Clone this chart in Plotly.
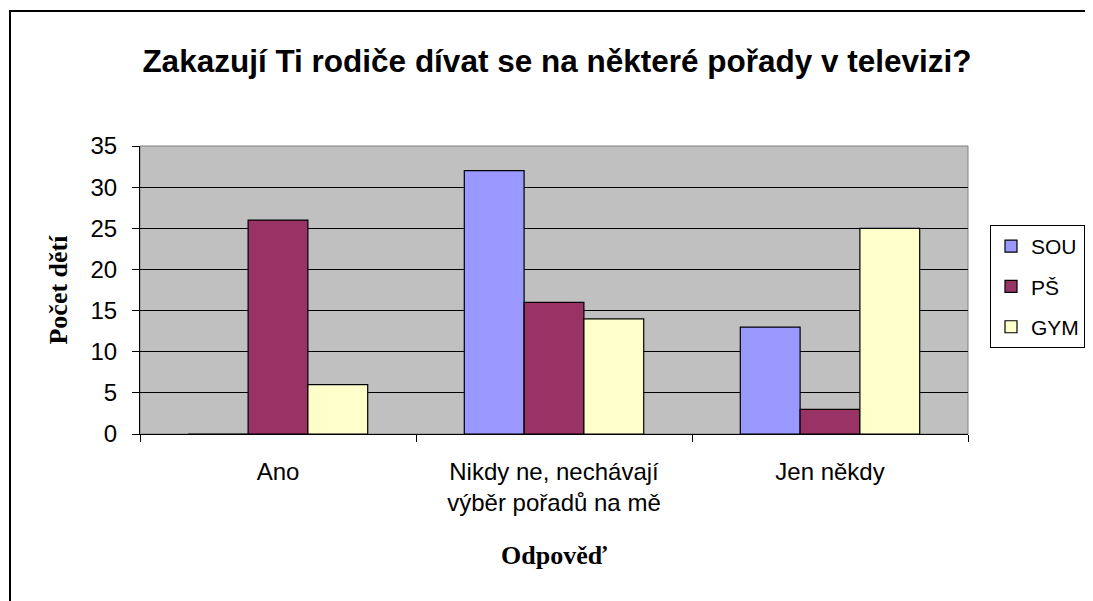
import plotly.graph_objects as go

categories = ["Ano", "Nikdy ne, nechávají<br>výběr pořadů na mě", "Jen někdy"]
series_names = ["SOU", "PŠ", "GYM"]
sou = [0, 32, 13]
ps = [26, 16, 3]
gym = [6, 14, 25]
colors = ["#9999FF", "#993366", "#FFFFCC"]
y_ticks = [0, 5, 10, 15, 20, 25, 30, 35]

fig = go.Figure()
for name, vals, col in zip(series_names, [sou, ps, gym], colors):
    fig.add_trace(go.Bar(x=categories, y=vals, name=name, legendgroup=name,
                         marker=dict(color=col, line=dict(color="black", width=1.2))))

OFF = 8  # page body margin
W, H = 1093 - OFF, 601 - OFF
L, T = 140 - OFF, 146 - OFF
R = W - (968 - OFF)
B = H - (434 - OFF)
pw, ph = W - L - R, H - T - B

SANS = "Arial, Liberation Sans"
SERIF = "Times New Roman, Liberation Serif"

fig.update_layout(
    width=W, height=H,
    margin=dict(l=L, r=R, t=T, b=B, autoexpand=False),
    paper_bgcolor="white", plot_bgcolor="#C0C0C0",
    barmode="group", bargap=0.35, bargroupgap=0,
    font=dict(family=SANS, size=24, color="black"),
    title=dict(text="Zakazují Ti rodiče dívat se na některé pořady v televizi?",
               x=(557 - OFF) / W, xanchor="center", y=1 - (61 - OFF) / H, yanchor="middle",
               font=dict(size=31.5, color="black", family=SANS, weight="bold")),
    legend=dict(x=(990 - 140) / pw, y=(434 - 225) / ph, xanchor="left", yanchor="top",
                bordercolor="black", borderwidth=1, bgcolor="white",
                font=dict(size=21), itemwidth=30, tracegroupgap=10),
    showlegend=True,
)
fig.update_xaxes(
    showline=True, linecolor="black", linewidth=1.2,
    ticks="outside", ticklen=7, tickcolor="black", tickson="boundaries",
    tickfont=dict(size=24), ticklabelstandoff=16,
    title=dict(text="Odpověď", standoff=30,
               font=dict(family=SERIF, size=26, weight="bold")),
)
fig.update_yaxes(
    range=[0, 35], tickvals=y_ticks, showline=True, linecolor="black", linewidth=1.2,
    ticks="outside", ticklen=7, tickcolor="black", ticklabelstandoff=10,
    showgrid=True, gridcolor="black", gridwidth=1.2,
    tickfont=dict(size=24),
    title=dict(text="Počet dětí", standoff=15,
               font=dict(family=SERIF, size=26, weight="bold")),
    zeroline=False,
)
# plot area border (gray)
fig.add_shape(type="rect", xref="paper", yref="paper", x0=0, x1=1, y0=0, y1=1,
              line=dict(color="#808080", width=1), layer="below")
# chart border
fig.add_shape(type="rect", xref="paper", yref="paper",
              x0=(10 - 140) / pw, x1=(1120 - 140) / pw,
              y0=(434 - 640) / ph, y1=(434 - 11) / ph,
              line=dict(color="black", width=2))

fig.write_html("out.html")
